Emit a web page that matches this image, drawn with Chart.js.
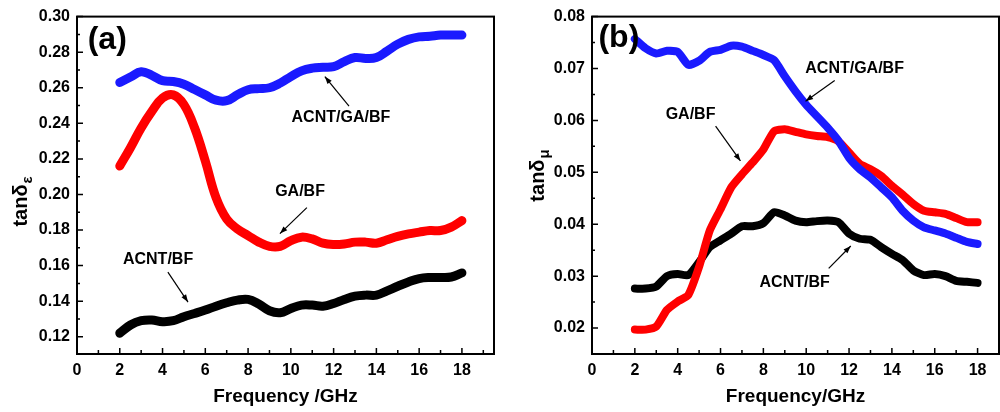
<!DOCTYPE html>
<html>
<head>
<meta charset="utf-8">
<script src="https://cdn.jsdelivr.net/npm/chart.js@4/dist/chart.umd.min.js"></script>
<style>
  html, body { margin: 0; padding: 0; background: #fff; }
  #wrap { position: relative; width: 1000px; height: 412px; }
  canvas { position: absolute; top: 0; }
  #chart-a { left: 0; }
  #chart-b { left: 500px; }
</style>
</head>
<body>
<div id="wrap">
  <canvas id="chart-a" width="500" height="412"></canvas>
  <canvas id="chart-b" width="500" height="412"></canvas>
</div>
<script>
// Fréquences communes (GHz)
const freq = [2, 2.5, 3, 3.5, 4, 4.5, 5, 5.5, 6, 6.5, 7, 7.5, 8, 8.5, 9, 9.5, 10,
              10.5, 11, 11.5, 12, 12.5, 13, 13.5, 14, 14.5, 15, 15.5, 16, 16.5, 17, 17.5, 18];

// (a) tan delta epsilon
const epsAcntGaBf = [0.263, 0.266, 0.269, 0.267, 0.264, 0.2635, 0.262, 0.259, 0.256, 0.253, 0.2527, 0.256, 0.2589,
                     0.2595, 0.260, 0.2626, 0.2663, 0.2695, 0.271, 0.2715, 0.2719, 0.2747, 0.277, 0.2765, 0.277,
                     0.2806, 0.2845, 0.2872, 0.2886, 0.289, 0.2896, 0.2896, 0.2896];
const epsGaBf = [0.216, 0.2263, 0.2374, 0.2467, 0.2542, 0.256, 0.2505, 0.2374, 0.2188, 0.1983, 0.1862, 0.1806, 0.1769,
                 0.1732, 0.1708, 0.1708, 0.1741, 0.176, 0.175, 0.1726, 0.1719, 0.1722, 0.1732, 0.1732, 0.1726,
                 0.1745, 0.1764, 0.1778, 0.1788, 0.1797, 0.1797, 0.1816, 0.1853];
const epsAcntBf = [0.122, 0.1266, 0.129, 0.1294, 0.1285, 0.129, 0.1313, 0.1331, 0.135, 0.1372, 0.1391, 0.1406, 0.141,
                   0.1384, 0.1346, 0.1335, 0.1359, 0.1378, 0.1378, 0.1372, 0.1387, 0.141, 0.1428, 0.1434, 0.1434,
                   0.1458, 0.1484, 0.1508, 0.1527, 0.1533, 0.1533, 0.1536, 0.1559];

// (b) tan delta mu
const muAcntGaBf = [0.0757, 0.0739, 0.0729, 0.0734, 0.0732, 0.0707, 0.0715, 0.0732, 0.0736, 0.0744, 0.0742, 0.0734,
                    0.0726, 0.0716, 0.0685, 0.0656, 0.063, 0.0608, 0.0586, 0.0561, 0.0528, 0.0506, 0.049, 0.0471,
                    0.0452, 0.0426, 0.0407, 0.0394, 0.0388, 0.0382, 0.0374, 0.0366, 0.0362];
const muGaBf = [0.0197, 0.0197, 0.0203, 0.0235, 0.0251, 0.0264, 0.0318, 0.0388, 0.0429, 0.0471, 0.0496, 0.0519, 0.0544,
                0.0579, 0.0583, 0.0578, 0.0573, 0.057, 0.0568, 0.056, 0.0538, 0.0516, 0.0506, 0.0493, 0.0474,
                0.0457, 0.0439, 0.0426, 0.0423, 0.042, 0.0412, 0.0404, 0.0404];
const muAcntBf = [0.0276, 0.0276, 0.028, 0.030, 0.0304, 0.0302, 0.0327, 0.0356, 0.0369, 0.0382, 0.0396, 0.0396, 0.0402,
                  0.0423, 0.0417, 0.0407, 0.0404, 0.0406, 0.0407, 0.0404, 0.0382, 0.0372, 0.037, 0.0356, 0.0343,
                  0.0331, 0.0311, 0.0302, 0.0304, 0.030, 0.0291, 0.0289, 0.0287];

// Graduations
const xTicks = [0, 2, 4, 6, 8, 10, 12, 14, 16, 18];
const xMinorTicks = [1, 3, 5, 7, 9, 11, 13, 15, 17, 19];
const yTicksA = [0.12, 0.14, 0.16, 0.18, 0.20, 0.22, 0.24, 0.26, 0.28, 0.30];
const yMinorA = [0.13, 0.15, 0.17, 0.19, 0.21, 0.23, 0.25, 0.27, 0.29];
const yTicksB = [0.02, 0.03, 0.04, 0.05, 0.06, 0.07, 0.08];
const yMinorB = [0.025, 0.035, 0.045, 0.055, 0.065, 0.075];

// Annotations : texte + flèche (coordonnées en données)
const notesA = [
    { text: 'ACNT/GA/BF', x: 12.34, y: 0.2434, from: [12.72, 0.2496], to: [11.59, 0.2663] },
    { text: 'GA/BF', x: 10.43, y: 0.2015, from: [10.75, 0.1926], to: [9.49, 0.178] },
    { text: 'ACNT/BF', x: 3.79, y: 0.1635, from: [4.25, 0.1563], to: [5.19, 0.1395] }
];
const notesB = [
    { text: 'ACNT/GA/BF', x: 12.26, y: 0.0700, from: [11.33, 0.0677], to: [9.97, 0.0637] },
    { text: 'GA/BF', x: 4.60, y: 0.0612, from: [5.77, 0.0589], to: [6.93, 0.0522] },
    { text: 'ACNT/BF', x: 9.46, y: 0.0287, from: [11.05, 0.0315], to: [12.08, 0.0358] }
];

const FONT = '"Liberation Sans", Arial, sans-serif';

function toPoints(values) {
    return values.map((v, i) => ({ x: freq[i], y: v }));
}

// Cadre, graduations intérieures, titres et annotations
const decorPlugin = {
    id: 'decor',
    afterDraw(chart, args, opts) {
        const ctx = chart.ctx;
        const area = chart.chartArea;
        const xs = chart.scales.x;
        const ys = chart.scales.y;
        ctx.save();
        ctx.strokeStyle = '#000';
        ctx.lineWidth = 2;
        ctx.strokeRect(area.left, area.top, area.right - area.left, area.bottom - area.top);

        // graduations vers l'intérieur
        ctx.lineWidth = 1.5;
        ctx.beginPath();
        xTicks.forEach(v => {
            const px = xs.getPixelForValue(v);
            ctx.moveTo(px, area.bottom); ctx.lineTo(px, area.bottom - 6);
        });
        xMinorTicks.forEach(v => {
            if (v >= xs.max) return;
            const px = xs.getPixelForValue(v);
            ctx.moveTo(px, area.bottom); ctx.lineTo(px, area.bottom - 4);
        });
        opts.yMajor.forEach(v => {
            const py = ys.getPixelForValue(v);
            ctx.moveTo(area.left, py); ctx.lineTo(area.left + 6, py);
        });
        opts.yMinor.forEach(v => {
            const py = ys.getPixelForValue(v);
            ctx.moveTo(area.left, py); ctx.lineTo(area.left + 3, py);
        });
        ctx.stroke();

        // étiquette (a)/(b)
        ctx.fillStyle = '#000';
        ctx.font = 'bold 32px ' + FONT;
        ctx.textAlign = 'left';
        ctx.textBaseline = 'middle';
        ctx.fillText(opts.label, xs.getPixelForValue(opts.labelPos[0]), ys.getPixelForValue(opts.labelPos[1]));

        // titre de l'axe Y avec indice
        ctx.save();
        ctx.translate(opts.yTitlePos[0], opts.yTitlePos[1]);
        ctx.rotate(-Math.PI / 2);
        ctx.font = 'bold 20px ' + FONT;
        const wMain = ctx.measureText('tanδ').width;
        ctx.font = 'bold 15px ' + FONT;
        const wSub = ctx.measureText(opts.ySub).width;
        const start = -(wMain + wSub) / 2;
        ctx.textAlign = 'left';
        ctx.textBaseline = 'alphabetic';
        ctx.font = 'bold 20px ' + FONT;
        ctx.fillText('tanδ', start, 7);
        ctx.font = 'bold 15px ' + FONT;
        ctx.fillText(opts.ySub, start + wMain + 1, 12);
        ctx.restore();

        // annotations
        ctx.font = 'bold 16px ' + FONT;
        ctx.textAlign = 'center';
        ctx.textBaseline = 'middle';
        ctx.lineWidth = 1.2;
        opts.notes.forEach(n => {
            ctx.fillText(n.text, xs.getPixelForValue(n.x), ys.getPixelForValue(n.y));
            const x1 = xs.getPixelForValue(n.from[0]), y1 = ys.getPixelForValue(n.from[1]);
            const x2 = xs.getPixelForValue(n.to[0]), y2 = ys.getPixelForValue(n.to[1]);
            ctx.beginPath();
            ctx.moveTo(x1, y1); ctx.lineTo(x2, y2);
            ctx.stroke();
            const ang = Math.atan2(y2 - y1, x2 - x1);
            ctx.beginPath();
            ctx.moveTo(x2, y2);
            ctx.lineTo(x2 - 8 * Math.cos(ang - 0.35), y2 - 8 * Math.sin(ang - 0.35));
            ctx.lineTo(x2 - 8 * Math.cos(ang + 0.35), y2 - 8 * Math.sin(ang + 0.35));
            ctx.closePath();
            ctx.fill();
        });
        ctx.restore();
    }
};

function makeChart(id, cfg) {
    const ctx = document.getElementById(id);
    return new Chart(ctx, {
        type: 'line',
        data: {
            datasets: cfg.series.map(s => ({
                label: s.label,
                data: toPoints(s.data),
                borderColor: s.color,
                borderWidth: cfg.lineWidth,
                borderCapStyle: 'round',
                borderJoinStyle: 'round',
                pointRadius: 0,
                tension: cfg.tension,
                fill: false
            }))
        },
        options: {
            responsive: false,
            animation: false,
            layout: { padding: { top: 15, right: cfg.padRight, left: 0, bottom: 0 } },
            plugins: {
                legend: { display: false },
                tooltip: { enabled: false },
                decor: {
                    label: cfg.label,
                    labelPos: cfg.labelPos,
                    ySub: cfg.ySub,
                    yTitlePos: cfg.yTitlePos,
                    yMajor: cfg.yTicks,
                    yMinor: cfg.yMinor,
                    notes: cfg.notes
                }
            },
            scales: {
                x: {
                    type: 'linear',
                    min: 0,
                    max: cfg.xMax,
                    afterBuildTicks: scale => { scale.ticks = xTicks.map(v => ({ value: v })); },
                    afterFit: scale => { scale.height = 58; },
                    grid: { display: false, drawTicks: false },
                    border: { display: false },
                    ticks: {
                        padding: 7,
                        color: '#000',
                        font: { family: FONT, size: 16, weight: 'bold' },
                        maxRotation: 0
                    },
                    title: {
                        display: true,
                        text: cfg.xTitle,
                        color: '#000',
                        font: { family: FONT, size: 19, weight: 'bold' },
                        padding: { top: 4 }
                    }
                },
                y: {
                    type: 'linear',
                    min: cfg.yMin,
                    max: cfg.yMax,
                    afterBuildTicks: scale => { scale.ticks = cfg.yTicks.map(v => ({ value: v })); },
                    afterFit: scale => { scale.width = cfg.yWidth; },
                    grid: { display: false, drawTicks: false },
                    border: { display: false },
                    ticks: {
                        padding: 7,
                        color: '#000',
                        font: { family: FONT, size: 16, weight: 'bold' },
                        callback: v => v.toFixed(2)
                    }
                }
            }
        },
        plugins: [decorPlugin]
    });
}

makeChart('chart-a', {
    series: [
        { label: 'ACNT/GA/BF', data: epsAcntGaBf, color: '#1a1aff' },
        { label: 'GA/BF', data: epsGaBf, color: '#ff0000' },
        { label: 'ACNT/BF', data: epsAcntBf, color: '#000000' }
    ],
    lineWidth: 9,
    tension: 0.4,
    xMax: 19.5,
    yMin: 0.1103,
    yMax: 0.30,
    yTicks: yTicksA,
    yMinor: yMinorA,
    yWidth: 77,
    padRight: 6,
    xTitle: 'Frequency /GHz',
    label: '(a)',
    labelPos: [0.5, 0.287],
    ySub: 'ε',
    yTitlePos: [20, 202],
    notes: notesA
});

makeChart('chart-b', {
    series: [
        { label: 'ACNT/GA/BF', data: muAcntGaBf, color: '#1a1aff' },
        { label: 'GA/BF', data: muGaBf, color: '#ff0000' },
        { label: 'ACNT/BF', data: muAcntBf, color: '#000000' }
    ],
    lineWidth: 8,
    tension: 0.2,
    xMax: 19.0,
    yMin: 0.015,
    yMax: 0.08,
    yTicks: yTicksB,
    yMinor: yMinorB,
    yWidth: 92,
    padRight: 1,
    xTitle: 'Frequency/GHz',
    label: '(b)',
    labelPos: [0.3, 0.0759],
    ySub: 'μ',
    yTitlePos: [37, 176],
    notes: notesB
});
</script>
</body>
</html>
